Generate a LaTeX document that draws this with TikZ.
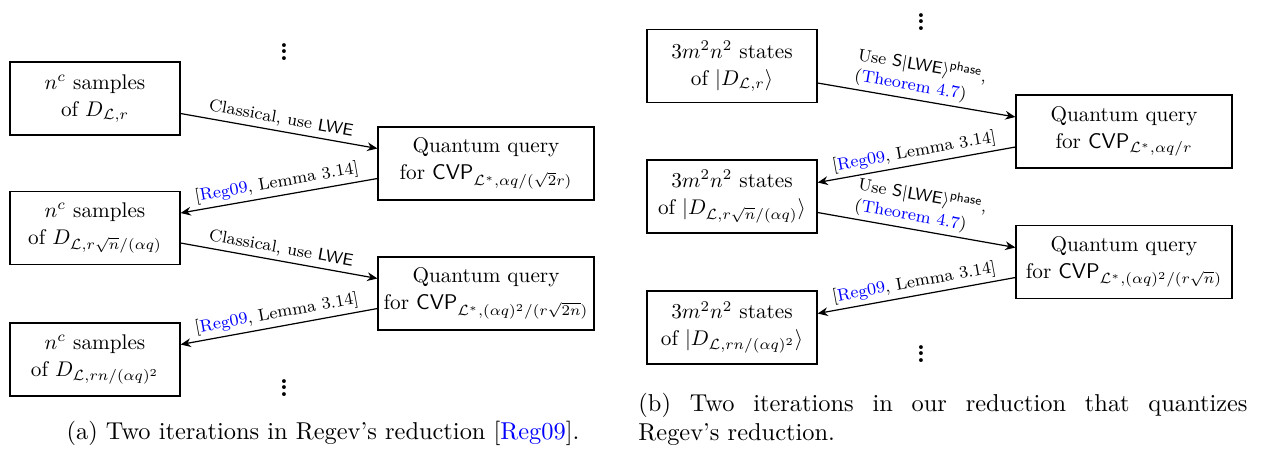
\documentclass[tikz,border=0pt]{standalone}
\usepackage{amsmath,amssymb}
\usetikzlibrary{arrows.meta,calc}
\newcommand{\boxfont}{\fontsize{10}{12.7}\selectfont}
\newcommand{\labfont}{\fontsize{8}{9.8}\selectfont}
\newcommand{\capfont}{\fontsize{10}{12}\selectfont}
\newcommand{\dotfont}{\bfseries\fontsize{11}{2.5}\selectfont}
\tikzset{
 box/.style={draw, line width=0.575pt, scale=0.87, minimum width=80.08pt, minimum height=34.37pt, inner sep=1pt, align=center, font=\boxfont},
 qbox/.style={box, minimum width=101.7pt},
 arr/.style={draw, line width=0.5pt, -{Stealth[length=4.2pt,width=3.6pt,inset=1.4pt]}},
 lab/.style={midway, above, sloped, font=\labfont, inner sep=1.8pt, scale=0.87},
 dots/.style={font=\dotfont, inner sep=0pt, align=center},
}
\begin{document}
\begin{tikzpicture}[x=0.4098pt, y=-0.4098pt]
\path[use as bounding box] (0,0) rectangle (1270,449);
% panel (a)
\node[box] (A1) at (95,98.5) {$n^c$ samples\\of $D_{\mathcal{L},r}$};
\node[box] (A2) at (95,228) {$n^c$ samples\\of $D_{\mathcal{L},r\sqrt{n}/(\alpha q)}$};
\node[box] (A3) at (95,359.5) {$n^c$ samples\\of $D_{\mathcal{L},rn/(\alpha q)^2}$};
\node[qbox] (Q1) at (486,163.5) {Quantum query\\for $\mathsf{CVP}_{\mathcal{L}^*,\alpha q/(\sqrt{2}r)}$};
\node[qbox] (Q2) at (486,293.5) {Quantum query\\for $\mathsf{CVP}_{\mathcal{L}^*,(\alpha q)^2/(r\sqrt{2n})}$};
\node[dots] (da1) at (284,52) {.\\.\\.};
\node[dots] (da2) at (284,388) {.\\.\\.};
\draw[arr] ($(A1.east)+(0,15)$) -- node[lab] {Classical, use $\mathsf{LWE}$} ($(Q1.west)+(0,-15)$);
\draw[arr] ($(Q1.west)+(0,15)$) -- node[lab] {[\textcolor{blue}{Reg09}, Lemma 3.14]} ($(A2.east)+(0,-15)$);
\draw[arr] ($(A2.east)+(0,15)$) -- node[lab] {Classical, use $\mathsf{LWE}$} ($(Q2.west)+(0,-15)$);
\draw[arr] ($(Q2.west)+(0,15)$) -- node[lab] {[\textcolor{blue}{Reg09}, Lemma 3.14]} ($(A3.east)+(0,-15)$);
% panel (b)
\node[box] (B1) at (732,66) {$3m^2n^2$ states\\of $|D_{\mathcal{L},r}\rangle$};
\node[box] (B2) at (732,196.5) {$3m^2n^2$ states\\of $|D_{\mathcal{L},r\sqrt{n}/(\alpha q)}\rangle$};
\node[box] (B3) at (732,327.5) {$3m^2n^2$ states\\of $|D_{\mathcal{L},rn/(\alpha q)^2}\rangle$};
\node[qbox] (R1) at (1124,131.5) {Quantum query\\for $\mathsf{CVP}_{\mathcal{L}^*,\alpha q/r}$};
\node[qbox] (R2) at (1124,262) {Quantum query\\for $\mathsf{CVP}_{\mathcal{L}^*,(\alpha q)^2/(r\sqrt{n})}$};
\node[dots] (db1) at (921,22) {.\\.\\.};
\node[dots] (db2) at (921,354) {.\\.\\.};
\draw[arr] ($(B1.east)+(0,17)$) -- node[lab, align=left] {Use $\mathsf{S}|\mathsf{LWE}\rangle^{\mathsf{phase}}$,\\(\textcolor{blue}{Theorem 4.7})} ($(R1.west)+(0,-14.5)$);
\draw[arr] ($(R1.west)+(0,15.5)$) -- node[lab] {[\textcolor{blue}{Reg09}, Lemma 3.14]} ($(B2.east)+(0,-14)$);
\draw[arr] ($(B2.east)+(0,16)$) -- node[lab, align=left] {Use $\mathsf{S}|\mathsf{LWE}\rangle^{\mathsf{phase}}$,\\(\textcolor{blue}{Theorem 4.7})} ($(R2.west)+(0,-14.5)$);
\draw[arr] ($(R2.west)+(0,15.5)$) -- node[lab] {[\textcolor{blue}{Reg09}, Lemma 3.14]} ($(B3.east)+(0,-14)$);
% captions
\node[font=\capfont, anchor=base, inner sep=0pt] (capa) at (323,439) {(a) Two iterations in Regev's reduction [\textcolor{blue}{Reg09}].};
\node[font=\capfont, anchor=base west, inner sep=0pt] (capb1) at (638,411) {\makebox[249.6pt][s]{(b) Two iterations in our reduction that quantizes}};
\node[font=\capfont, anchor=base west, inner sep=0pt] (capb2) at (638,440) {Regev's reduction.};
\end{tikzpicture}
\end{document}
